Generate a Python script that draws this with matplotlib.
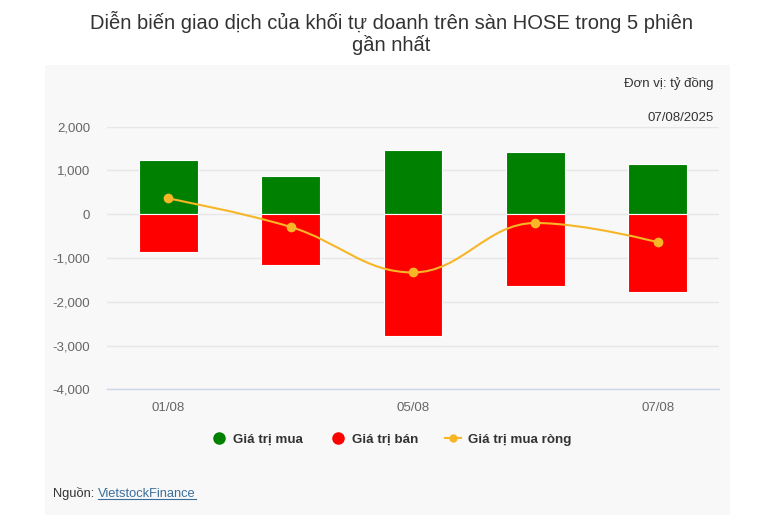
import matplotlib
matplotlib.use("Agg")
import matplotlib.pyplot as plt
from matplotlib.patches import Rectangle
from matplotlib.path import Path
from matplotlib.patches import PathPatch
from matplotlib.lines import Line2D
from matplotlib.ticker import FuncFormatter

# du lieu
dates = ["01/08", "04/08", "05/08", "06/08", "07/08"]
gia_tri_mua = [1230, 870, 1460, 1430, 1145]
gia_tri_ban = [-870, -1160, -2790, -1630, -1785]
mua_rong = [360, -290, -1330, -200, -640]

plt.rcParams['font.family'] = ['Liberation Sans', 'DejaVu Sans']

W, H = 782, 532
fig = plt.figure(figsize=(W / 100, H / 100), dpi=100)

# nen xam
fig.patches.append(Rectangle((45 / W, 1 - 515 / H), 685 / W, 450 / H,
                             transform=fig.transFigure, facecolor='#f8f8f8',
                             edgecolor='none', zorder=-5))

ax = fig.add_axes([107 / W, 1 - 389.3 / H, 612 / W, (389.3 - 126.7) / H])
ax.set_facecolor('none')

x = list(range(len(dates)))
ax.bar(x, gia_tri_mua, width=0.48, color='#008000', edgecolor='white', linewidth=0.8, zorder=2)
ax.bar(x, gia_tri_ban, width=0.48, color='#ff0000', edgecolor='white', linewidth=0.8, zorder=2)


# duong spline kieu Highcharts
def spline_path(xs, ys, smoothing=1.5):
    denom = smoothing + 1
    n = len(xs)
    rc = [None] * n
    lc = [None] * n
    for i in range(1, n - 1):
        px, py = xs[i], ys[i]
        lx, ly = xs[i - 1], ys[i - 1]
        nx, ny = xs[i + 1], ys[i + 1]
        lcx = (smoothing * px + lx) / denom
        lcy = (smoothing * py + ly) / denom
        rcx = (smoothing * px + nx) / denom
        rcy = (smoothing * py + ny) / denom
        corr = 0
        if rcx != lcx:
            corr = (rcy - lcy) * (rcx - px) / (rcx - lcx) + py - rcy
        lcy += corr
        rcy += corr
        if lcy > ly and lcy > py:
            lcy = max(ly, py)
            rcy = 2 * py - lcy
        elif lcy < ly and lcy < py:
            lcy = min(ly, py)
            rcy = 2 * py - lcy
        if rcy > ny and rcy > py:
            rcy = max(ny, py)
            lcy = 2 * py - rcy
        elif rcy < ny and rcy < py:
            rcy = min(ny, py)
            lcy = 2 * py - rcy
        lc[i] = (lcx, lcy)
        rc[i] = (rcx, rcy)
    verts = [(xs[0], ys[0])]
    codes = [Path.MOVETO]
    for i in range(1, n):
        c1 = rc[i - 1] if rc[i - 1] is not None else (xs[i - 1], ys[i - 1])
        c2 = lc[i] if lc[i] is not None else (xs[i], ys[i])
        verts += [c1, c2, (xs[i], ys[i])]
        codes += [Path.CURVE4] * 3
    return Path(verts, codes)


line_color = '#f7b626'
ax.add_patch(PathPatch(spline_path(x, mua_rong), facecolor='none',
                       edgecolor=line_color, linewidth=1.5, zorder=3))
ax.plot(x, mua_rong, linestyle='none', marker='o', markersize=6,
        color=line_color, zorder=4)

ax.set_xlim(-0.5, len(dates) - 0.5)
ax.set_ylim(-4000, 2000)
ax.set_yticks([2000, 1000, 0, -1000, -2000, -3000, -4000])
ax.yaxis.set_major_formatter(FuncFormatter(lambda v, p: f"{int(v):,}"))
ax.set_xticks(x)
ax.set_xticklabels([d if i % 2 == 0 else '' for i, d in enumerate(dates)])
ax.tick_params(axis='both', length=0, labelsize=9.5, labelcolor='#666666')
ax.tick_params(axis='y', pad=12)
ax.tick_params(axis='x', pad=9)
ax.grid(axis='y', color='#e6e6e6', linewidth=1, zorder=0)
ax.set_axisbelow(True)
for s in ['top', 'right', 'left']:
    ax.spines[s].set_visible(False)
ax.spines['bottom'].set_color('#ccd6eb')
ax.spines['bottom'].set_linewidth(1)
ax.spines['bottom'].set_zorder(1)

# tieu de
fig.text(0.5, 1 - 22 / H, "Diễn biến giao dịch của khối tự doanh trên sàn HOSE trong 5 phiên",
         ha='center', va='center', fontsize=14.5, color='#333333')
fig.text(0.5, 1 - 45 / H, "gần nhất", ha='center', va='center', fontsize=14.5, color='#333333')

fig.text(714 / W, 1 - 84 / H, "Đơn vị: tỷ đồng", ha='right', va='center', fontsize=9.5, color='#333333')
fig.text(714 / W, 1 - 118 / H, "07/08/2025", ha='right', va='center', fontsize=9.5, color='#333333')

# chu thich
handles = [
    Line2D([], [], linestyle='none', marker='o', markersize=8, color='#008000'),
    Line2D([], [], linestyle='none', marker='o', markersize=8, color='#ff0000'),
    Line2D([], [], linestyle='-', linewidth=1.5, marker='o', markersize=5, color=line_color),
]
labels = ["Giá trị mua", "Giá trị bán", "Giá trị mua ròng"]
fig.legend(handles, labels, loc='center', bbox_to_anchor=(391 / W, 1 - 440 / H), ncol=3,
           frameon=False, prop={'weight': 'bold', 'size': 9.6}, labelcolor='#333333',
           handlelength=1.2, handletextpad=0.5, columnspacing=2.0)

# nguon
t1 = fig.text(53 / W, 1 - 494 / H, "Nguồn: ", ha='left', va='center', fontsize=9.3, color='#333333')
fig.canvas.draw()
bb = t1.get_window_extent()
t2 = fig.text(bb.x1 / W, 1 - 494 / H, "VietstockFinance", ha='left', va='center',
              fontsize=9.3, color='#3c6e9c')
fig.canvas.draw()
bb2 = t2.get_window_extent()
fig.lines.append(Line2D([bb2.x0 / W, bb2.x1 / W], [(bb2.y0 + 1.5) / H] * 2,
                        transform=fig.transFigure, color='#3c6e9c', linewidth=0.8))

fig.savefig("out.png", dpi=100, facecolor='white')
